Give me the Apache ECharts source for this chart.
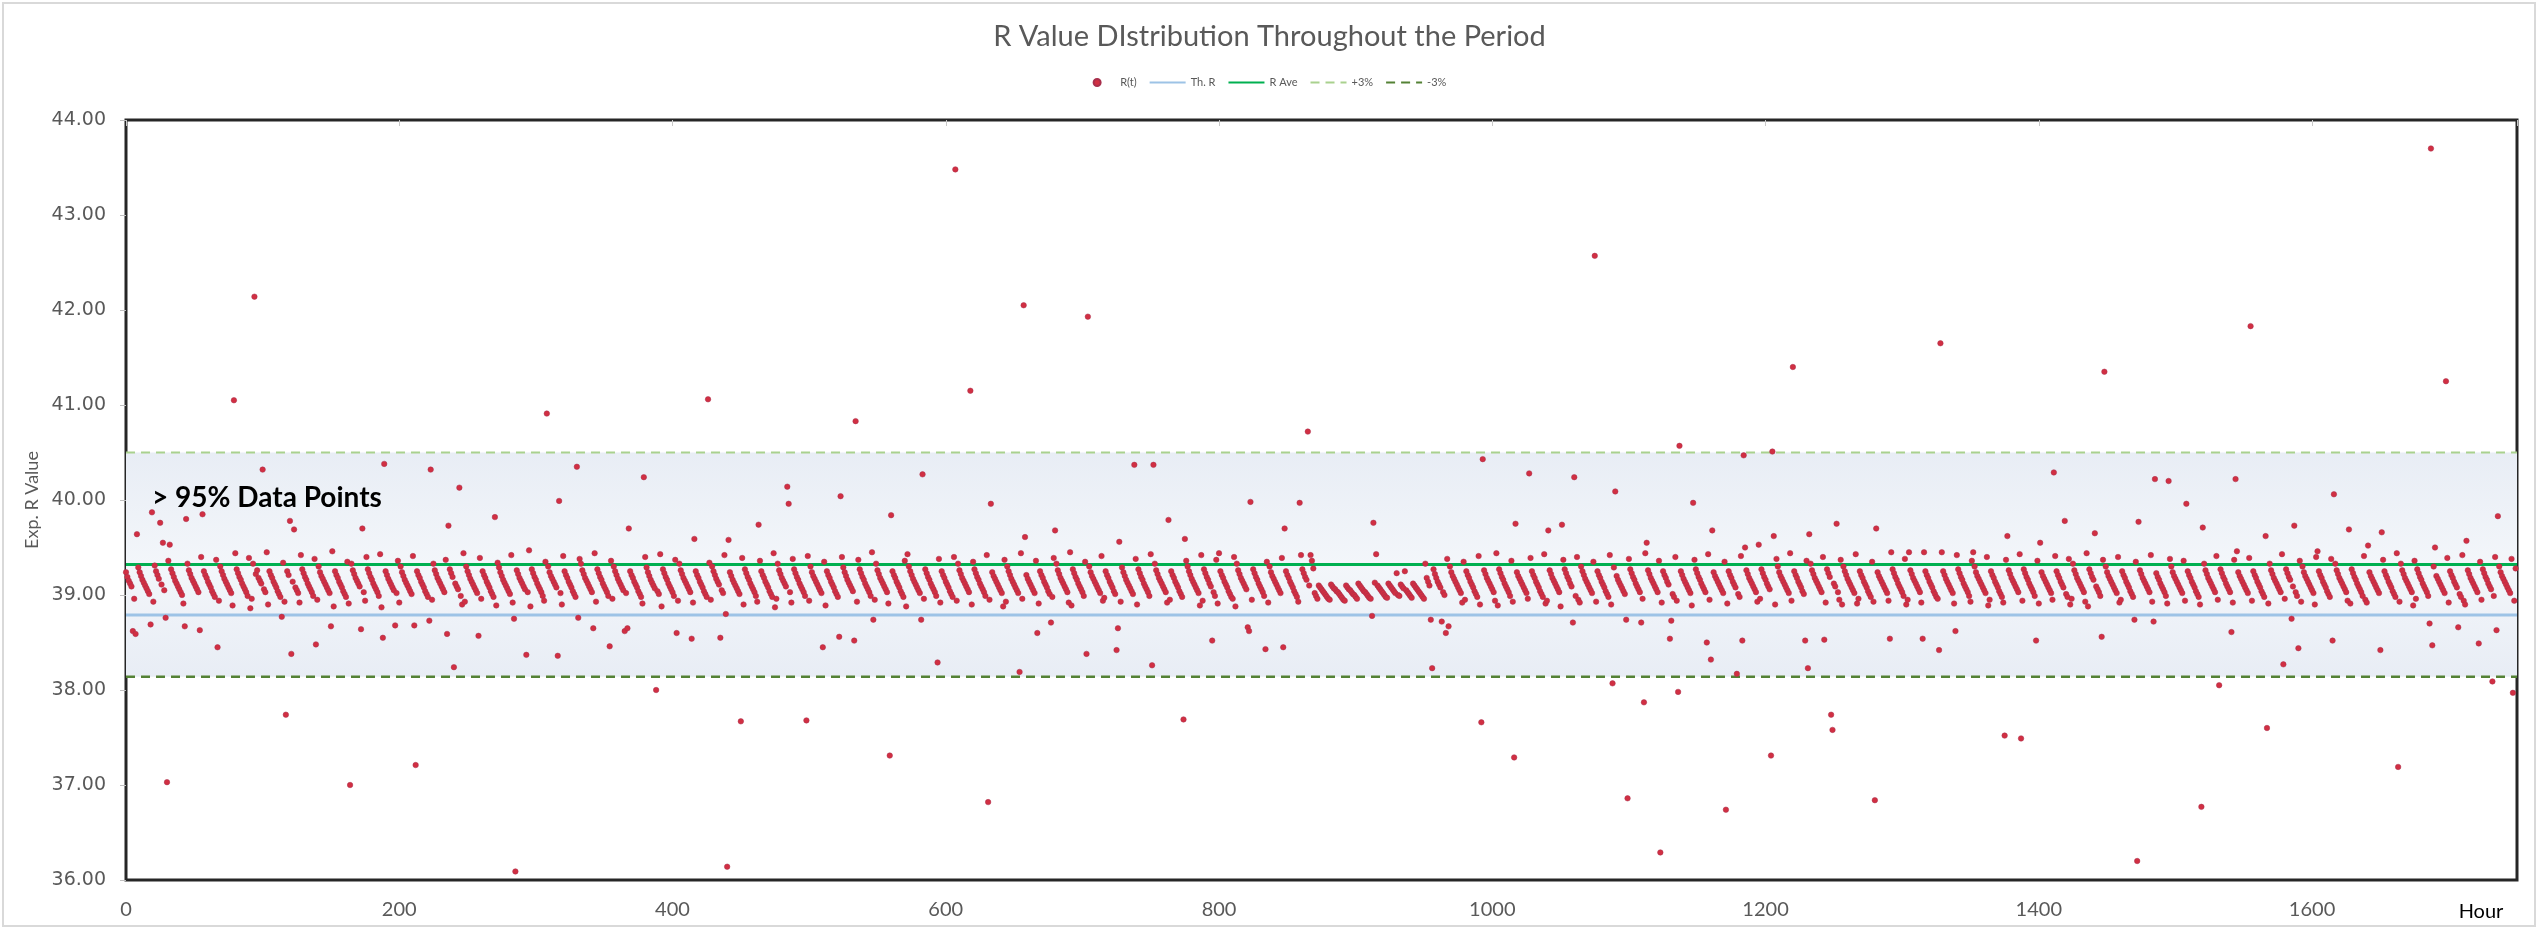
<!DOCTYPE html>
<html>
<head>
<meta charset="utf-8">
<title>R Value Distribution</title>
<script src="https://cdn.jsdelivr.net/npm/echarts@6/dist/echarts.min.js"></script>
<style>
  html, body { margin: 0; padding: 0; background: #ffffff; }
  #chart { width: 2539px; height: 930px; }
</style>
</head>
<body>
<div id="chart"></div>
<script>
// Hourly R(t) readings, one row per 12-hour block.
const rHours0to239 = [
  39.24,39.19,39.15,39.12,39.09,38.62,38.96,38.59,39.64,39.29,39.24,39.20,
  39.16,39.13,39.10,39.07,39.04,39.01,38.69,39.87,38.93,39.31,39.25,39.21,
  39.17,39.76,39.11,39.55,39.05,38.76,37.03,39.36,39.53,39.27,39.23,39.19,
  39.15,39.12,39.09,39.06,39.03,39.00,38.91,38.67,39.80,39.33,39.26,39.22,
  39.18,39.15,39.12,39.09,39.06,39.03,38.63,39.40,39.85,39.25,39.21,39.18,
  39.14,39.11,39.08,39.04,39.01,38.98,39.37,38.45,38.94,39.30,39.25,39.21,
  39.17,39.14,39.11,39.08,39.05,39.02,38.89,41.05,39.44,39.27,39.23,39.19,
  39.16,39.12,39.09,39.06,39.03,38.99,39.39,38.86,38.96,39.33,42.14,39.22,
  39.26,39.18,39.15,39.12,40.32,39.06,39.03,39.45,38.90,39.25,39.21,39.18,
  39.14,39.11,39.08,39.04,39.01,38.98,38.77,39.34,38.93,37.74,39.25,39.21,
  39.78,38.38,39.14,39.69,39.08,39.05,39.02,38.92,39.42,39.27,39.23,39.19,
  39.16,39.12,39.09,39.06,39.03,38.99,39.38,38.48,38.95,39.30,39.24,39.20,
  39.17,39.14,39.11,39.08,39.05,39.02,38.67,39.46,38.88,39.25,39.21,39.18,
  39.14,39.11,39.08,39.04,39.01,38.98,39.35,38.91,37.00,39.33,39.26,39.22,
  39.18,39.15,39.12,39.09,38.64,39.70,39.03,38.94,39.40,39.27,39.23,39.19,
  39.16,39.12,39.09,39.06,39.03,38.99,39.43,38.87,38.55,40.38,39.25,39.21,
  39.17,39.14,39.11,39.08,39.05,38.68,39.02,39.36,38.92,39.30,39.24,39.20,
  39.16,39.13,39.10,39.07,39.04,39.01,39.41,38.68,37.21,39.25,39.21,39.18,
  39.14,39.11,39.08,39.04,39.01,38.98,38.73,40.32,38.95,39.33,39.26,39.22,
  39.18,39.15,39.12,39.09,39.06,39.03,39.37,38.59,39.73,39.27,39.23,39.19
];
const rHours240to479 = [
  38.24,39.12,39.09,39.06,40.13,38.99,38.90,39.44,38.93,39.30,39.25,39.21,
  39.17,39.14,39.11,39.08,39.05,39.02,38.57,39.39,38.96,39.25,39.21,39.18,
  39.14,39.11,39.08,39.04,39.01,38.98,39.82,38.89,39.34,39.29,39.24,39.20,
  39.16,39.13,39.10,39.07,39.04,39.01,39.42,38.92,38.75,36.09,39.26,39.22,
  39.18,39.15,39.12,39.09,39.06,38.37,39.03,39.47,38.88,39.27,39.23,39.19,
  39.16,39.12,39.09,39.06,39.03,38.99,38.94,39.35,40.91,39.30,39.24,39.20,
  39.17,39.14,39.11,39.08,38.36,39.99,39.02,38.90,39.41,39.25,39.21,39.18,
  39.14,39.11,39.08,39.04,39.01,38.98,40.35,38.76,39.38,39.33,39.26,39.22,
  39.18,39.15,39.12,39.09,39.06,39.03,38.65,39.44,38.93,39.27,39.23,39.19,
  39.16,39.12,39.09,39.06,39.03,38.99,38.46,39.36,38.96,39.30,39.25,39.21,
  39.17,39.14,39.11,39.08,39.05,38.62,39.02,38.65,39.70,39.25,39.21,39.18,
  39.14,39.11,39.08,39.04,39.01,38.98,38.91,40.24,39.40,39.29,39.24,39.20,
  39.16,39.13,39.10,39.07,38.00,39.04,39.01,39.43,38.88,39.27,39.23,39.19,
  39.16,39.12,39.09,39.06,39.03,38.99,39.37,38.60,38.94,39.33,39.26,39.22,
  39.18,39.15,39.12,39.09,39.06,39.03,38.54,38.92,39.59,39.25,39.21,39.18,
  39.14,39.11,39.08,39.04,39.01,38.98,41.06,39.34,38.95,39.30,39.25,39.21,
  39.17,39.14,39.11,38.55,39.05,39.02,39.42,38.80,36.14,39.58,39.24,39.20,
  39.16,39.13,39.10,39.07,39.04,39.01,37.67,39.39,38.90,39.27,39.23,39.19,
  39.16,39.12,39.09,39.06,39.03,38.99,38.93,39.74,39.36,39.25,39.21,39.18,
  39.14,39.11,39.08,39.04,39.01,38.98,39.44,38.87,38.96,39.33,39.26,39.22
];
const rHours480to719 = [
  39.18,39.15,39.12,39.09,40.14,39.96,39.03,38.92,39.38,39.27,39.23,39.19,
  39.16,39.12,39.09,39.06,39.03,38.99,37.68,39.41,38.94,39.30,39.24,39.20,
  39.17,39.14,39.11,39.08,39.05,39.02,38.45,39.35,38.89,39.25,39.21,39.18,
  39.14,39.11,39.08,39.04,39.01,38.98,38.56,40.04,39.40,39.29,39.24,39.20,
  39.16,39.13,39.10,39.07,39.04,38.52,40.83,38.93,39.37,39.27,39.23,39.19,
  39.16,39.12,39.09,39.06,39.03,38.99,39.45,38.74,38.95,39.33,39.26,39.22,
  39.18,39.15,39.12,39.09,39.06,39.03,38.91,37.31,39.84,39.25,39.21,39.18,
  39.14,39.11,39.08,39.04,39.01,38.98,39.36,38.88,39.43,39.30,39.25,39.21,
  39.17,39.14,39.11,39.08,39.05,39.02,38.74,40.27,38.96,39.27,39.23,39.19,
  39.16,39.12,39.09,39.06,39.03,38.99,38.29,39.38,38.92,39.25,39.21,39.18,
  39.14,39.11,39.08,39.04,39.01,38.98,39.40,43.48,38.94,39.33,39.26,39.22,
  39.18,39.15,39.12,39.09,39.06,39.03,41.15,38.90,39.35,39.27,39.23,39.19,
  39.16,39.12,39.09,39.06,39.03,38.99,39.42,36.82,38.95,39.96,39.24,39.20,
  39.17,39.14,39.11,39.08,39.05,39.02,38.88,39.37,38.93,39.30,39.25,39.21,
  39.17,39.14,39.11,39.08,39.05,39.02,38.19,39.44,38.96,42.05,39.61,39.21,
  39.17,39.14,39.11,39.08,39.05,39.02,39.36,38.60,38.91,39.25,39.21,39.18,
  39.14,39.11,39.08,39.04,39.01,38.71,38.98,39.39,39.68,39.33,39.26,39.22,
  39.18,39.15,39.12,39.09,39.06,39.03,38.92,39.45,38.89,39.27,39.23,39.19,
  39.16,39.12,39.09,39.06,39.03,38.99,39.35,38.38,41.93,39.30,39.24,39.20,
  39.17,39.14,39.11,39.08,39.05,39.02,39.41,38.94,38.97,39.25,39.21,39.18
];
const rHours720to959 = [
  39.14,39.11,39.08,39.04,39.01,38.42,38.65,39.56,38.93,39.29,39.24,39.20,
  39.16,39.13,39.10,39.07,39.04,39.01,40.37,39.38,38.90,39.27,39.23,39.19,
  39.16,39.12,39.09,39.06,39.03,38.99,39.43,38.26,40.37,39.33,39.26,39.22,
  39.18,39.15,39.12,39.09,39.06,39.03,38.92,39.79,38.95,39.25,39.21,39.18,
  39.14,39.11,39.08,39.04,39.01,38.98,37.69,39.59,39.36,39.30,39.25,39.21,
  39.17,39.14,39.11,39.08,39.05,39.02,38.89,39.42,38.94,39.27,39.23,39.19,
  39.16,39.12,39.09,38.52,39.03,38.99,39.37,38.91,39.44,39.25,39.21,39.18,
  39.14,39.11,39.08,39.04,39.01,38.98,38.96,39.40,38.88,39.33,39.26,39.22,
  39.18,39.15,39.12,39.09,39.06,38.66,38.62,39.98,38.95,39.27,39.23,39.19,
  39.16,39.12,39.09,39.06,39.03,38.99,38.43,39.35,38.92,39.30,39.24,39.20,
  39.17,39.14,39.11,39.08,39.05,39.02,39.39,38.45,39.70,39.25,39.21,39.18,
  39.14,39.11,39.08,39.04,39.01,38.98,38.93,39.97,39.42,39.27,39.23,39.19,
  39.16,40.72,39.10,39.42,39.36,39.28,39.02,38.99,38.96,39.10,39.08,39.06,
  39.04,39.02,39.00,38.98,38.96,38.95,39.11,39.09,39.07,39.06,39.04,39.03,
  39.01,38.99,38.97,38.95,38.94,39.10,39.08,39.06,39.05,39.03,39.01,39.00,
  38.98,38.96,39.12,39.10,39.08,39.06,39.04,39.03,39.01,38.99,38.97,38.96,
  38.78,39.76,39.13,39.43,39.10,39.08,39.06,39.04,39.02,39.00,38.98,38.97,
  39.12,39.10,39.08,39.06,39.04,39.02,39.23,39.00,38.99,39.11,39.09,39.07,
  39.25,39.05,39.03,39.01,38.99,38.97,39.12,39.10,39.08,39.06,39.04,39.02,
  39.00,38.98,38.96,39.33,39.18,39.14,39.10,38.74,38.23,39.27,39.22,39.18
];
const rHours960to1199 = [
  39.14,39.11,39.08,38.72,39.03,39.00,38.60,39.38,38.67,39.30,39.24,39.20,
  39.17,39.14,39.11,39.08,39.05,39.02,38.92,39.35,38.95,39.25,39.21,39.18,
  39.14,39.11,39.08,39.04,39.01,38.98,39.41,38.90,37.66,40.43,39.26,39.22,
  39.18,39.15,39.12,39.09,39.06,39.03,38.94,39.44,38.89,39.27,39.23,39.19,
  39.16,39.12,39.09,39.06,39.03,38.99,39.36,38.93,37.29,39.75,39.24,39.20,
  39.17,39.14,39.11,39.08,39.05,39.02,38.96,40.28,39.39,39.25,39.21,39.18,
  39.14,39.11,39.08,39.04,39.01,38.98,39.43,38.91,38.94,39.68,39.26,39.22,
  39.18,39.15,39.12,39.09,39.06,39.03,38.88,39.74,39.37,39.27,39.23,39.19,
  39.16,39.12,39.09,38.71,40.24,38.99,39.40,38.95,38.92,39.30,39.25,39.21,
  39.17,39.14,39.11,39.08,39.05,39.02,39.35,42.57,38.93,39.25,39.21,39.18,
  39.14,39.11,39.08,39.04,39.01,38.98,39.42,38.90,38.07,39.29,40.09,39.20,
  39.16,39.13,39.10,39.07,39.04,39.01,38.74,36.86,39.38,39.27,39.23,39.19,
  39.16,39.12,39.09,39.06,39.03,38.71,38.96,37.87,39.44,39.55,39.26,39.22,
  39.18,39.15,39.12,39.09,39.06,39.03,39.36,36.29,38.92,39.25,39.21,39.18,
  39.14,39.11,38.54,38.73,39.01,38.98,39.40,38.94,37.98,40.57,39.25,39.21,
  39.17,39.14,39.11,39.08,39.05,39.02,38.89,39.97,39.37,39.27,39.23,39.19,
  39.16,39.12,39.09,39.06,39.03,38.50,39.43,38.95,38.32,39.68,39.24,39.20,
  39.17,39.14,39.11,39.08,39.05,39.02,39.35,36.74,38.91,39.25,39.21,39.18,
  39.14,39.11,39.08,38.17,39.01,38.98,39.41,38.52,40.47,39.50,39.26,39.22,
  39.18,39.15,39.12,39.09,39.06,39.03,38.93,39.53,38.96,39.27,39.23,39.19
];
const rHours1200to1439 = [
  39.16,39.12,39.09,39.06,37.31,40.51,39.62,38.90,39.38,39.30,39.24,39.20,
  39.17,39.14,39.11,39.08,39.05,39.02,39.44,38.94,41.40,39.25,39.21,39.18,
  39.14,39.11,39.08,39.04,39.01,38.52,39.36,38.23,39.64,39.33,39.26,39.22,
  39.18,39.15,39.12,39.09,39.06,39.03,39.40,38.53,38.92,39.27,39.23,39.19,
  37.74,37.58,39.12,39.09,39.75,39.03,38.95,39.37,38.90,39.30,39.25,39.21,
  39.17,39.14,39.11,39.08,39.05,39.02,39.43,38.91,38.96,39.25,39.21,39.18,
  39.14,39.11,39.08,39.04,39.01,38.98,39.35,38.93,36.84,39.70,39.24,39.20,
  39.17,39.14,39.11,39.08,39.05,39.02,38.94,38.54,39.45,39.27,39.23,39.19,
  39.16,39.12,39.09,39.06,39.03,38.99,39.38,38.90,38.95,39.45,39.26,39.22,
  39.18,39.15,39.12,39.09,39.06,39.03,38.92,38.54,39.45,39.25,39.21,39.18,
  39.14,39.11,39.08,39.04,39.01,38.98,38.96,38.42,41.65,39.45,39.25,39.21,
  39.17,39.14,39.11,39.08,39.05,39.02,38.91,38.62,39.42,39.27,39.23,39.19,
  39.16,39.12,39.09,39.06,39.03,38.99,38.93,39.36,39.45,39.30,39.24,39.20,
  39.17,39.14,39.11,39.08,39.05,39.02,39.40,38.89,38.95,39.25,39.21,39.18,
  39.14,39.11,39.08,39.04,39.01,38.98,38.92,37.52,39.37,39.62,39.26,39.22,
  39.18,39.15,39.12,39.09,39.06,39.03,39.43,37.49,38.94,39.27,39.23,39.19,
  39.16,39.12,39.09,39.06,39.03,38.99,38.52,39.36,38.91,39.55,39.24,39.20,
  39.17,39.14,39.11,39.08,39.05,39.02,38.95,40.29,39.41,39.25,39.21,39.18,
  39.14,39.11,39.08,39.78,39.01,38.98,39.38,38.90,38.96,39.33,39.26,39.22,
  39.18,39.15,39.12,39.09,39.06,39.03,38.93,39.44,38.88,39.27,39.23,39.19
];
const rHours1440to1679 = [
  39.16,39.65,39.09,39.06,39.03,38.99,38.56,39.37,41.35,39.30,39.24,39.20,
  39.17,39.14,39.11,39.08,39.05,39.02,39.40,38.92,38.95,39.25,39.21,39.18,
  39.14,39.11,39.08,39.04,39.01,38.98,38.74,39.35,36.20,39.77,39.26,39.22,
  39.18,39.15,39.12,39.09,39.06,39.03,39.42,38.93,38.72,40.22,39.23,39.19,
  39.16,39.12,39.09,39.06,39.03,38.99,38.91,40.20,39.38,39.30,39.24,39.20,
  39.17,39.14,39.11,39.08,39.05,39.02,39.36,38.94,39.96,39.25,39.21,39.18,
  39.14,39.11,39.08,39.04,39.01,38.98,38.90,36.77,39.71,39.33,39.26,39.22,
  39.18,39.15,39.12,39.09,39.06,39.03,39.41,38.95,38.05,39.27,39.23,39.19,
  39.16,39.12,39.09,39.06,39.03,38.61,38.92,39.37,40.22,39.46,39.24,39.20,
  39.17,39.14,39.11,39.08,39.05,39.02,39.39,41.83,38.94,39.25,39.21,39.18,
  39.14,39.11,39.08,39.04,39.01,38.98,39.62,37.60,38.91,39.33,39.26,39.22,
  39.18,39.15,39.12,39.09,39.06,39.03,39.43,38.27,38.96,39.27,39.23,39.19,
  39.16,38.75,39.09,39.73,39.03,38.99,38.44,39.36,38.93,39.30,39.24,39.20,
  39.17,39.14,39.11,39.08,39.05,39.02,38.90,39.40,39.46,39.25,39.21,39.18,
  39.14,39.11,39.08,39.04,39.01,38.98,39.38,38.52,40.06,39.33,39.26,39.22,
  39.18,39.15,39.12,39.09,39.06,39.03,38.94,39.69,38.91,39.27,39.23,39.19,
  39.16,39.12,39.09,39.06,39.03,38.99,39.41,38.95,38.92,39.52,39.24,39.20,
  39.17,39.14,39.11,39.08,39.05,39.02,38.42,39.66,39.37,39.25,39.21,39.18,
  39.14,39.11,39.08,39.04,39.01,38.98,39.44,37.19,38.93,39.33,39.26,39.22,
  39.18,39.15,39.12,39.09,39.06,39.03,38.89,39.36,38.96,39.27,39.23,39.19
];
const rHours1680to1749 = [
  39.16,39.12,39.09,39.06,39.03,38.99,38.70,43.70,38.47,39.30,39.50,39.20,
  39.17,39.14,39.11,39.08,39.05,39.02,41.25,39.39,38.92,39.25,39.21,39.18,
  39.14,39.11,39.08,38.66,39.01,38.98,39.42,38.94,38.90,39.57,39.26,39.22,
  39.18,39.15,39.12,39.09,39.06,39.03,38.49,39.35,38.95,39.27,39.23,39.19,
  39.16,39.12,39.09,39.06,38.09,38.99,39.40,38.63,39.83,39.30,39.24,39.20,
  39.17,39.14,39.11,39.08,39.05,39.02,39.38,37.97,38.94,39.28
];

// Reference levels
const thR = 38.79;
const rAve = 39.32;
const plus3 = 40.50;
const minus3 = 38.14;

// Axis settings
const hourMax = 1750;
const hourStep = 200;
const yMin = 36;
const yMax = 44;
const yStep = 1;

const legendNames = ['R(t)', 'Th. R', 'R Ave', '+3%', '-3%'];

const rValues = [].concat(
  rHours0to239, rHours240to479, rHours480to719, rHours720to959,
  rHours960to1199, rHours1200to1439, rHours1440to1679, rHours1680to1749
);
const rPoints = rValues.map((v, hour) => [hour, v]);
const levelLine = (v) => [[0, v], [hourMax, v]];

const chart = echarts.init(document.getElementById('chart'), null, { renderer: 'canvas' });

const gray = '#595959';

// Line entries show only their stroke in the legend, no marker.
const legendData = legendNames.map((name, i) =>
  i === 0 ? { name } : { name, itemStyle: { opacity: 0 } }
);

chart.setOption({
  animation: false,
  backgroundColor: '#ffffff',
  title: {
    text: 'R Value DIstribution Throughout the Period',
    left: 'center',
    top: 17,
    textStyle: { fontFamily: 'Lato', fontWeight: 'normal', fontSize: 29, color: gray }
  },
  legend: {
    data: legendData,
    left: 'center',
    top: 72,
    itemWidth: 36,
    itemHeight: 7,
    itemGap: 12,
    textStyle: { fontFamily: 'Lato', fontSize: 11, color: gray }
  },
  grid: {
    left: 126, right: 22, top: 120, bottom: 50,
    show: true,
    borderColor: '#262626',
    borderWidth: 3,
    backgroundColor: 'transparent'
  },
  xAxis: [
    {
      type: 'value',
      min: 0, max: hourMax, interval: hourStep,
      axisLine: { show: false },
      axisTick: { show: false },
      splitLine: { show: false },
      axisLabel: {
        showMaxLabel: false,
        margin: 20,
        fontFamily: 'Lato', fontSize: 20, color: gray,
        formatter: (v) => String(v)
      }
    },
    {
      type: 'value',
      position: 'top',
      min: 0, max: hourMax, interval: hourStep,
      axisLine: { show: false },
      axisTick: { show: true, inside: true, length: 6, lineStyle: { color: '#c8c8c8', width: 1 } },
      axisLabel: { show: false },
      splitLine: { show: false }
    }
  ],
  yAxis: {
    type: 'value',
    min: yMin, max: yMax, interval: yStep,
    name: 'Exp. R Value',
    nameLocation: 'middle',
    nameGap: 84,
    nameRotate: 90,
    nameTextStyle: { fontFamily: 'Lato', fontSize: 18, color: gray },
    axisLine: { show: false },
    axisTick: { show: true, length: 6, lineStyle: { color: '#bfbfbf' } },
    splitLine: { show: false },
    axisLabel: {
      margin: 20,
      fontFamily: 'DejaVu Sans', fontSize: 19, color: gray,
      formatter: (v) => v.toFixed(2)
    }
  },
  series: [
    {
      name: 'R(t)',
      type: 'scatter',
      data: rPoints,
      symbol: 'circle',
      symbolSize: 5.5,
      z: 5,
      progressive: 0,
      itemStyle: { color: '#d12f42', borderColor: '#a82f4c', borderWidth: 0.5, opacity: 1 }
    },
    {
      name: 'Th. R',
      type: 'line',
      data: levelLine(thR),
      symbol: 'none',
      z: 3,
      lineStyle: { color: '#9dc3e6', width: 3 },
      itemStyle: { color: '#9dc3e6' }
    },
    {
      name: 'R Ave',
      type: 'line',
      data: levelLine(rAve),
      symbol: 'none',
      z: 3,
      lineStyle: { color: '#00b050', width: 3 },
      itemStyle: { color: '#00b050' }
    },
    {
      name: '+3%',
      type: 'line',
      data: levelLine(plus3),
      symbol: 'none',
      z: 3,
      lineStyle: { color: '#a9d18e', width: 2, type: [9, 6] },
      itemStyle: { color: '#a9d18e' },
      markArea: {
        silent: true,
        z: 1,
        itemStyle: {
          color: {
            type: 'linear', x: 0, y: 0, x2: 0, y2: 1,
            colorStops: [
              { offset: 0, color: '#e8edf5' },
              { offset: 0.5, color: '#f3f6fa' },
              { offset: 1, color: '#e8edf5' }
            ]
          }
        },
        data: [[{ yAxis: minus3 }, { yAxis: plus3 }]]
      }
    },
    {
      name: '-3%',
      type: 'line',
      data: levelLine(minus3),
      symbol: 'none',
      z: 3,
      lineStyle: { color: '#548235', width: 2.5, type: [9, 6] },
      itemStyle: { color: '#548235' }
    }
  ],
  graphic: [
    {
      type: 'rect',
      silent: true,
      z: -1,
      shape: { x: 3, y: 3, width: 2532, height: 923 },
      style: { fill: 'none', stroke: '#d9d9d9', lineWidth: 2 }
    },
    {
      type: 'text',
      left: 152,
      top: 484,
      z: 10,
      style: {
        text: '> 95% Data Points',
        fontFamily: 'Lato', fontWeight: 'bold', fontSize: 28, fill: '#000000'
      }
    },
    {
      type: 'text',
      x: 2481,
      y: 912,
      z: 10,
      style: {
        text: 'Hour',
        fontFamily: 'Lato', fontSize: 20, fill: '#000000',
        textAlign: 'center', textVerticalAlign: 'middle'
      }
    }
  ]
});
</script>
</body>
</html>
